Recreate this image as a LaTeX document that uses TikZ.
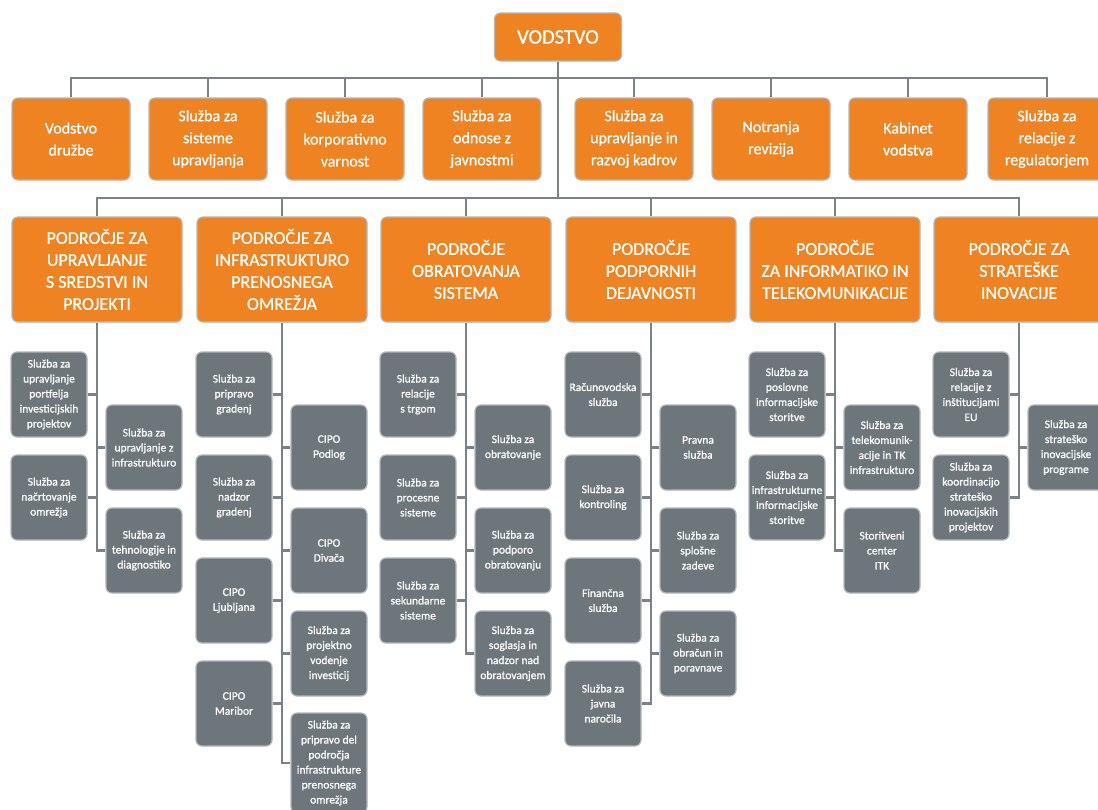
\documentclass[tikz,border=0pt]{standalone}
\usepackage{fontspec}
\setmainfont{Carlito}[FakeBold=0.9]
\usetikzlibrary{positioning}

\definecolor{eleso}{RGB}{240,131,33}
\definecolor{slate}{RGB}{108,118,123}
\definecolor{wire}{RGB}{120,130,136}
\definecolor{rim}{RGB}{178,183,187}

\begin{document}
\begin{tikzpicture}[x=1pt, y=-1pt, on grid,
	box/.style = {rounded corners=6pt, draw=rim, line width=1.2pt, text=white, align=center, inner sep=1pt},
	lead/.style = {box, fill=eleso, minimum width=127pt, minimum height=48pt, font=\fontsize{20.5}{24}\selectfont},
	staff/.style = {box, fill=eleso, minimum width=118pt, minimum height=82pt, font=\fontsize{16}{22}\selectfont},
	area/.style = {box, fill=eleso, minimum width=170pt, minimum height=105pt, font=\fontsize{18}{22}\selectfont},
	unit/.style = {box, fill=slate, minimum width=76pt, minimum height=85pt, font=\fontsize{11.5}{15}\selectfont},
	link/.style = {draw=wire, line width=2.6pt}]
		\useasboundingbox (0,0) rectangle (1098,809);
		
		\node[lead] (vodstvo) at (558,37) {VODSTVO};
		\coordinate (bar1) at (558,78);
		\coordinate (bar2) at (558,198);
		
		% staff services
		\node[staff] (druzbe) at (71,139) {Vodstvo\\družbe};
		\node[staff] (sistemi) at (208,139) {Služba za\\sisteme\\upravljanja};
		\node[staff] (varnost) at (345,139) {Služba za\\korporativno\\varnost};
		\node[staff] (javnost) at (482,139) {Služba za\\odnose z\\javnostmi};
		\node[staff] (kadri) at (634,139) {Služba za\\upravljanje in\\razvoj kadrov};
		\node[staff] (revizija) at (771,139) {Notranja\\revizija};
		\node[staff] (kabinet) at (908,139) {Kabinet\\vodstva};
		\node[staff] (regulator) at (1047,139) {Služba za\\relacije z\\regulatorjem};
		
		% areas
		\node[area] (sredstva) at (97,269.5) {PODROČJE ZA\\UPRAVLJANJE\\S SREDSTVI IN\\PROJEKTI};
		\node[area] (infra) at (282,269.5) {PODROČJE ZA\\INFRASTRUKTURO\\PRENOSNEGA\\OMREŽJA};
		\node[area] (obrat) at (466,269.5) {PODROČJE\\OBRATOVANJA\\SISTEMA};
		\node[area] (podpora) at (651,269.5) {PODROČJE\\PODPORNIH\\DEJAVNOSTI};
		\node[area] (itk) at (835,269.5) {PODROČJE\\ZA INFORMATIKO IN\\TELEKOMUNIKACIJE};
		\node[area] (inov) at (1019,269.5) {PODROČJE ZA\\STRATEŠKE\\INOVACIJE};
		
		% sredstva
		\node[unit, below left = 125pt and 48pt of sredstva] (portfelj) {Služba za\\upravljanje\\portfelja\\investicijskih\\projektov};
		\node[unit, below = 103pt of portfelj] (nacrt) {Služba za\\načrtovanje\\omrežja};
		\node[unit, below right = 178pt and 47pt of sredstva] (upravinfra) {Služba za\\upravljanje z\\infrastrukturo};
		\node[unit, below = 103pt of upravinfra] (diagnostika) {Služba za\\tehnologije in\\diagnostiko};
		
		% infrastruktura
		\node[unit, below left = 125pt and 48pt of infra] (priprava) {Služba za\\pripravo\\gradenj};
		\node[unit, below = 103pt of priprava] (nadzor) {Služba za\\nadzor\\gradenj};
		\node[unit, below = 103pt of nadzor] (ljubljana) {CIPO\\Ljubljana};
		\node[unit, below = 103pt of ljubljana] (maribor) {CIPO\\Maribor};
		\node[unit, below right = 178pt and 47pt of infra] (podlog) {CIPO\\Podlog};
		\node[unit, below = 103pt of podlog] (divaca) {CIPO\\Divača};
		\node[unit, below = 103pt of divaca] (projektno) {Služba za\\projektno\\vodenje\\investicij};
		\node[unit, below = 109.5pt of projektno, minimum height=100pt] (pripravadel) {Služba za\\pripravo del\\področja\\infrastrukture\\prenosnega\\omrežja};
		
		% obratovanje
		\node[unit, below left = 125pt and 48pt of obrat] (trg) {Služba za\\relacije\\s trgom};
		\node[unit, below = 103pt of trg] (procesni) {Služba za\\procesne\\sisteme};
		\node[unit, below = 103pt of procesni] (sekundarni) {Služba za\\sekundarne\\sisteme};
		\node[unit, below right = 178pt and 47pt of obrat] (obratovanje) {Služba za\\obratovanje};
		\node[unit, below = 103pt of obratovanje] (podporoobr) {Služba za\\podporo\\obratovanju};
		\node[unit, below = 103pt of podporoobr] (soglasja) {Služba za\\soglasja in\\nadzor nad\\obratovanjem};
		
		% podpora
		\node[unit, below left = 125pt and 48pt of podpora] (racunovodstvo) {Računovodska\\služba};
		\node[unit, below = 103pt of racunovodstvo] (kontroling) {Služba za\\kontroling};
		\node[unit, below = 103pt of kontroling] (financna) {Finančna\\služba};
		\node[unit, below = 103pt of financna] (narocila) {Služba za\\javna\\naročila};
		\node[unit, below right = 178pt and 47pt of podpora] (pravna) {Pravna\\služba};
		\node[unit, below = 103pt of pravna] (splosne) {Služba za\\splošne\\zadeve};
		\node[unit, below = 103pt of splosne] (obracun) {Služba za\\obračun in\\poravnave};
		
		% informatika
		\node[unit, below left = 125pt and 48pt of itk] (poslovne) {Služba za\\poslovne\\informacijske\\storitve};
		\node[unit, below = 103pt of poslovne] (infrastorit) {Služba za\\infrastrukturne\\informacijske\\storitve};
		\node[unit, below right = 178pt and 47pt of itk] (telekom) {Služba za\\telekomunik-\\acije in TK\\infrastrukturo};
		\node[unit, below = 103pt of telekom] (center) {Storitveni\\center\\ITK};
		
		% inovacije
		\node[unit, below left = 125pt and 48pt of inov] (eu) {Služba za\\relacije z\\inštitucijami\\EU};
		\node[unit, below = 103pt of eu] (koordinacija) {Služba za\\koordinacijo\\strateško\\inovacijskih\\projektov};
		\node[unit, below right = 178pt and 47pt of inov] (programi) {Služba za\\strateško\\inovacijske\\programe};
		
		\draw[link] (vodstvo.south) -- (bar2);
		\draw[link] (bar1) -| (druzbe.north) (bar1) -| (sistemi.north) (bar1) -| (varnost.north)
			(bar1) -| (javnost.north) (bar1) -| (kadri.north) (bar1) -| (revizija.north)
			(bar1) -| (kabinet.north) (bar1) -| (regulator.north);
		\draw[link] (bar2) -| (sredstva.north) (bar2) -| (infra.north) (bar2) -| (obrat.north)
			(bar2) -| (podpora.north) (bar2) -| (itk.north) (bar2) -| (inov.north);
		
		\draw[link] (sredstva.south) |- (portfelj.east) (sredstva.south) |- (nacrt.east)
			(sredstva.south) |- (upravinfra.west) (sredstva.south) |- (diagnostika.west);
		\draw[link] (infra.south) |- (priprava.east) (infra.south) |- (nadzor.east)
			(infra.south) |- (ljubljana.east) (infra.south) |- (maribor.east)
			(infra.south) |- (podlog.west) (infra.south) |- (divaca.west)
			(infra.south) |- (projektno.west) (infra.south) |- (pripravadel.west);
		\draw[link] (obrat.south) |- (trg.east) (obrat.south) |- (procesni.east)
			(obrat.south) |- (sekundarni.east) (obrat.south) |- (obratovanje.west)
			(obrat.south) |- (podporoobr.west) (obrat.south) |- (soglasja.west);
		\draw[link] (podpora.south) |- (racunovodstvo.east) (podpora.south) |- (kontroling.east)
			(podpora.south) |- (financna.east) (podpora.south) |- (narocila.east)
			(podpora.south) |- (pravna.west) (podpora.south) |- (splosne.west)
			(podpora.south) |- (obracun.west);
		\draw[link] (itk.south) |- (poslovne.east) (itk.south) |- (infrastorit.east)
			(itk.south) |- (telekom.west) (itk.south) |- (center.west);
		\draw[link] (inov.south) |- (eu.east) (inov.south) |- (koordinacija.east)
			(inov.south) |- (programi.west);
\end{tikzpicture}
\end{document}
